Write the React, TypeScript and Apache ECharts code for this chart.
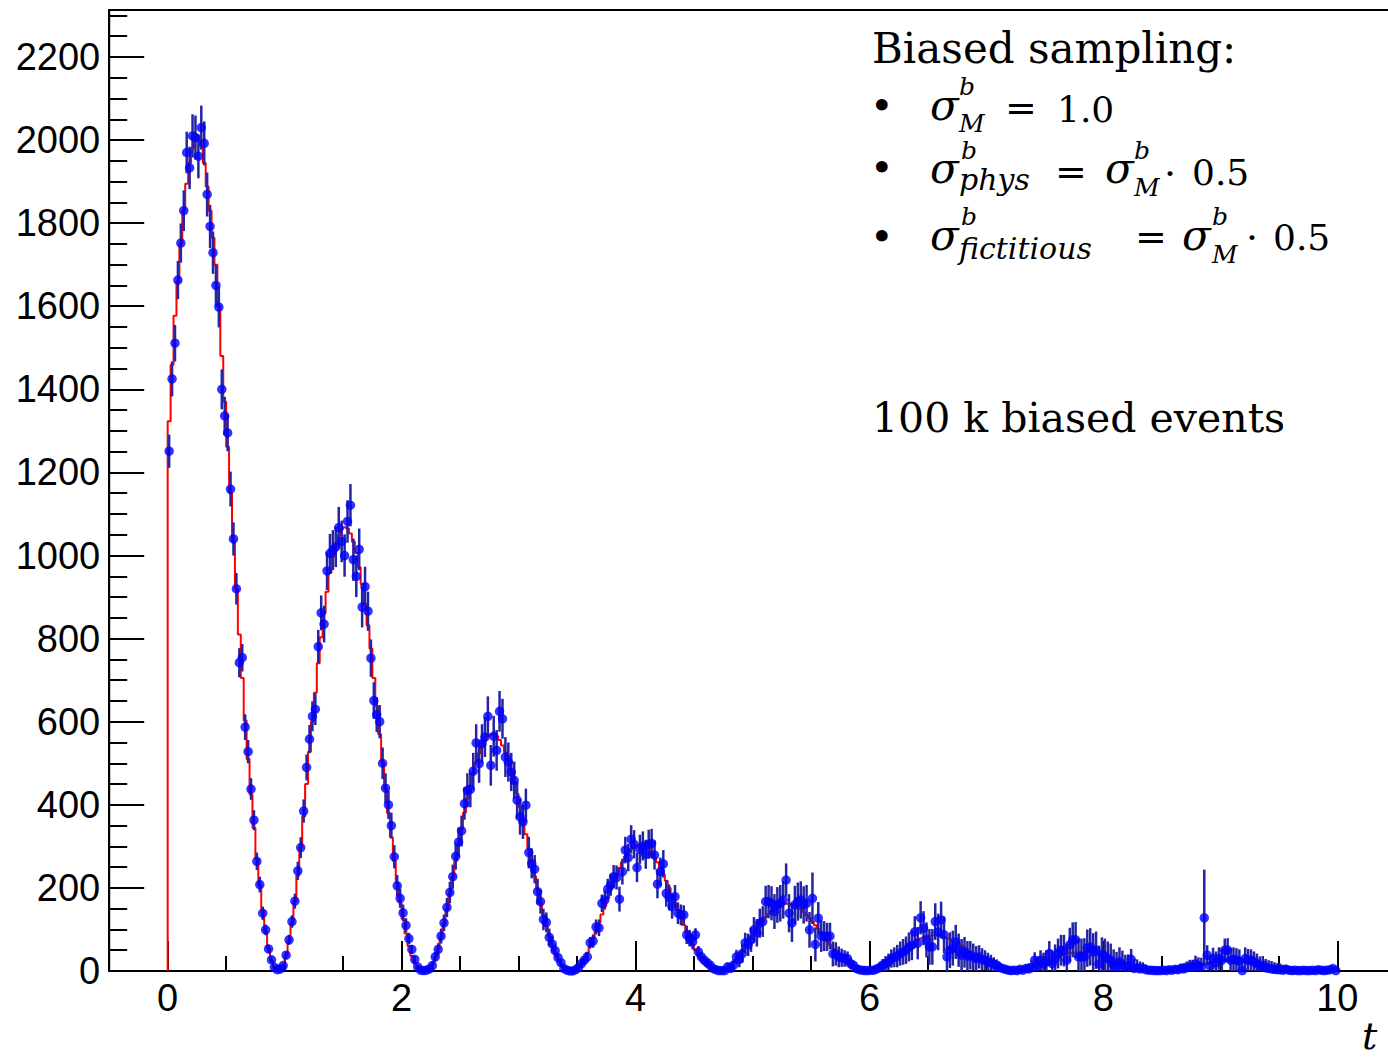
import React, { useEffect, useRef } from "react";
import * as echarts from "echarts";

// 400 bins of width 0.025 on t in [0, 10]
const BIN_WIDTH = 0.025;

// Expected bin contents (red step histogram)
const MODEL: number[] = [
  1323, 1459, 1577, 1660, 1750, 1830, 1895, 1945, 1980, 1999,
  2003, 1985, 1945, 1888, 1830, 1765, 1700, 1600, 1480, 1370,
  1262, 1150, 1035, 920, 810, 705, 603, 510, 425, 345,
  270, 205, 145, 95, 55, 25, 8,
  1, 4, 15, 38, 72, 115, 168, 230, 298, 372,
  450, 528, 600, 670, 741, 803, 861, 913, 958, 997,
  1027, 1049, 1063, 1068, 1065, 1053, 1033, 1006, 972, 931,
  884, 832, 776, 705, 638, 570, 502, 440, 380, 322,
  265, 212, 165, 125, 90, 60, 36, 18, 7, 1,
  0,
  1, 5, 15, 32, 54, 82, 113, 148, 186, 225,
  265, 304, 342, 381, 415, 447, 476, 502, 524, 542,
  555, 565, 569, 569, 565, 556, 543, 526, 506, 482,
  455, 426, 395, 362, 329, 295, 261, 228, 196, 164,
  135, 108, 84, 62, 44, 28, 16, 8, 2, 0,
  1, 4, 10, 19, 31, 44, 60, 78, 96, 116,
  136, 156, 176, 196, 214, 232, 248, 262, 275, 285,
  293, 299, 303, 304, 302, 298, 292, 284, 274, 262,
  248, 233, 217, 200, 183, 165, 147, 129, 111, 94,
  78, 64, 50, 38, 27, 18, 11, 6, 2, 0,
  0, 1, 4, 8, 14, 21, 28, 37, 47, 57,
  68, 79, 90, 100, 110, 120, 129, 137, 144, 150,
  155, 158, 161, 162, 162, 160, 157, 153, 148, 142,
  135, 128, 119, 110, 101, 92, 82, 72, 63, 54,
  45, 37, 29, 23, 17, 11, 7, 4, 2, 0,
  0,
  0, 1, 3, 6, 9, 13, 18, 23, 28, 34,
  40, 45, 51, 56, 62, 67, 71, 75, 78, 81,
  83, 85, 86, 86, 85, 84, 82, 80, 77, 73,
  69, 65, 61, 56, 51, 46, 40, 35, 30, 26,
  21, 17, 13, 10, 7, 5, 3, 1, 0, 0,
  0, 0, 1, 3, 4, 6, 9, 11, 14, 17,
  20, 23, 26, 29, 32, 35, 37, 39, 41, 43,
  44, 45, 46, 46, 46, 45, 44, 43, 42, 40,
  38, 36, 33, 31, 28, 25, 23, 20, 17, 15,
  12, 10, 8, 6, 4, 3, 2, 1, 0, 0,
  0,
  0.1, 0.5, 1.1, 1.9, 2.9, 4.1, 5.4, 6.9, 8.4, 10,
  11.6, 13.3, 14.9, 16.5, 17.9, 19.3, 20.6, 21.7, 22.6, 23.4,
  24, 24.4, 24.6, 24.6, 24.4, 24, 23.4, 22.7, 21.8, 20.8,
  19.6, 18.4, 17, 15.6, 14.2, 12.7, 11.3, 9.8, 8.4, 7.1,
  5.8, 4.7, 3.6, 2.7, 1.9, 1.2, 0.7, 0.3, 0.1, 0,
  0, 0.2, 0.4, 0.8, 1.3, 1.9, 2.6, 3.3, 4.1, 4.9,
];

// Observed bin contents (blue points)
const DATA: number[] = [
  1251, 1425, 1511, 1663, 1752, 1830, 1970, 1933, 2010, 2006,
  1961, 2030, 1992, 1869, 1792, 1729, 1650, 1598, 1400, 1336,
  1295, 1160, 1040, 920, 742, 754, 587, 528, 438, 363,
  264, 208, 139, 99, 53, 27, 9,
  3, 5, 13, 38, 75, 119, 168, 241, 297, 385,
  490, 558, 613, 630, 781, 862, 835, 963, 1005, 1013,
  1021, 1067, 1034, 1000, 1082, 1121, 990, 950, 1015, 876,
  925, 866, 753, 651, 617, 600, 500, 440, 400, 350,
  275, 205, 175, 140, 110, 78, 52, 28, 10, 2,
  1,
  2, 5, 13, 34, 52, 84, 116, 153, 189, 227,
  276, 310, 337, 403, 435, 437, 481, 549, 499, 547,
  563, 613, 495, 565, 531, 625, 607, 515, 503, 479,
  459, 411, 371, 359, 399, 285, 259, 245, 191, 167,
  124, 117, 81, 65, 49, 32, 20, 6, 2, 0,
  0, 3, 8, 18, 26, 34, 68, 72, 106, 104,
  163, 171, 197, 207, 227, 225, 173, 239, 291, 273,
  317, 305, 249, 293, 301, 281, 305, 307, 279, 209,
  239, 258, 187, 177, 155, 179, 139, 135, 135, 87,
  79, 70, 87, 46, 34, 26, 20, 14, 6, 3,
  1, 1, 1, 10, 6, 14, 34, 28, 42, 68,
  63, 75, 99, 92, 115, 119, 167, 167, 163, 143,
  159, 163, 171, 219, 139, 116, 159, 167, 171, 159,
  163, 99, 175, 64, 127, 84, 84, 82, 84, 41,
  41, 34, 32, 30, 30, 18, 14, 6, 3, 2,
  1,
  1, 2, 2, 5, 8, 14, 18, 22, 30, 33,
  36, 42, 46, 50, 58, 62, 94, 67, 128, 103,
  75, 58, 58, 119, 94, 123, 87, 34, 50, 55,
  70, 50, 38, 45, 36, 38, 34, 30, 34, 28,
  26, 22, 20, 16, 14, 9, 6, 4, 2, 1,
  2, 1, 4, 2, 6, 5, 8, 26, 12, 26,
  18, 22, 42, 18, 30, 42, 50, 49, 26, 63,
  75, 75, 34, 34, 34, 55, 58, 46, 50, 17,
  38, 36, 30, 26, 14, 10, 22, 16, 9, 12,
  28, 6, 8, 5, 6, 3, 2, 2, 1, 1,
  1,
  2, 1, 3, 2, 4, 3, 6, 5, 8, 10,
  9, 17, 12, 10, 128, 38, 12, 30, 20, 30,
  26, 50, 50, 26, 28, 26, 24, 1, 30, 26,
  26, 22, 18, 12, 14, 8, 6, 5, 4, 3,
  3, 2, 4, 2, 1, 2, 1, 1, 2, 1,
  1, 2, 1, 3, 2, 1, 2, 3, 6, 1,
];

// Error (half-length) of each observed bin
const ERRORS: number[] = [
  40, 42, 44, 46, 47, 49, 50, 51, 52, 53,
  53, 53, 53, 53, 52, 51, 50, 49, 48, 46,
  44, 42, 40, 38, 35, 33, 31, 28, 26, 24,
  21, 19, 16, 13, 10, 7, 4,
  1, 3, 5, 9, 12, 15, 18, 22, 25, 28,
  31, 34, 36, 38, 40, 42, 44, 46, 47, 48,
  49, 50, 50, 51, 51, 51, 51, 50, 50, 49,
  48, 47, 45, 44, 42, 40, 38, 36, 34, 31,
  28, 26, 23, 20, 17, 14, 11, 8, 5, 2,
  1,
  3, 6, 9, 12, 15, 18, 20, 23, 26, 29,
  32, 35, 37, 39, 41, 43, 44, 45, 46, 47,
  48, 48, 49, 49, 49, 49, 48, 48, 47, 46,
  45, 44, 43, 41, 40, 38, 36, 34, 31, 29,
  26, 24, 21, 18, 15, 12, 9, 7, 3, 1,
  2, 4, 6, 8, 10, 12, 14, 16, 18, 20,
  21, 23, 25, 26, 28, 29, 30, 31, 32, 33,
  34, 34, 35, 35, 35, 35, 35, 35, 35, 34,
  34, 33, 32, 31, 29, 28, 26, 25, 23, 22,
  20, 18, 16, 14, 12, 10, 8, 6, 3, 1,
  1, 3, 6, 9, 12, 14, 17, 19, 22, 24,
  27, 29, 31, 33, 35, 37, 38, 40, 41, 42,
  43, 44, 45, 40, 46, 46, 46, 46, 45, 45,
  44, 43, 62, 41, 39, 38, 36, 34, 32, 30,
  28, 25, 22, 20, 17, 14, 11, 8, 6, 2,
  1,
  2, 4, 7, 10, 13, 15, 18, 20, 22, 24,
  27, 29, 31, 33, 35, 36, 38, 39, 40, 41,
  42, 43, 43, 44, 44, 44, 44, 43, 43, 42,
  41, 40, 39, 37, 36, 34, 32, 30, 28, 27,
  24, 22, 19, 17, 14, 12, 9, 5, 2, 2,
  2, 3, 6, 9, 11, 14, 17, 19, 21, 24,
  26, 28, 30, 32, 34, 36, 37, 38, 40, 41,
  42, 43, 44, 44, 45, 45, 45, 45, 45, 44,
  43, 42, 41, 40, 38, 36, 35, 33, 30, 28,
  25, 23, 20, 18, 15, 13, 10, 7, 3, 2,
  1,
  2, 3, 5, 7, 8, 10, 12, 14, 15, 17,
  18, 20, 21, 22, 116, 24, 25, 26, 27, 27,
  28, 28, 29, 29, 29, 29, 28, 28, 27, 27,
  26, 25, 24, 23, 22, 21, 20, 19, 17, 16,
  15, 13, 11, 10, 8, 6, 5, 3, 2, 1,
  1, 2, 2, 3, 3, 4, 4, 5, 5, 6,
];

const X_MAJOR_TICKS = [0, 2, 4, 6, 8, 10];
const X_MINOR_TICKS = [0, 0.5, 1, 1.5, 2, 2.5, 3, 3.5, 4, 4.5, 5, 5.5, 6, 6.5, 7, 7.5, 8, 8.5, 9, 9.5, 10];
const Y_MAJOR_TICKS = [0, 200, 400, 600, 800, 1000, 1200, 1400, 1600, 1800, 2000, 2200];
const Y_MINOR_TICKS = [
  0, 50, 100, 150, 200, 250, 300, 350, 400, 450, 500, 550, 600, 650, 700, 750, 800, 850, 900, 950,
  1000, 1050, 1100, 1150, 1200, 1250, 1300, 1350, 1400, 1450, 1500, 1550, 1600, 1650, 1700, 1750,
  1800, 1850, 1900, 1950, 2000, 2050, 2100, 2150, 2200, 2250, 2300,
];

const X_MIN = -0.5;
const X_MAX = 10.5;
const Y_MAX = 2313;

const SERIF = '"DejaVu Serif", serif';
const SANS = '"Liberation Sans", Arial, sans-serif';

function txt(text: string, x: number, baseline: number, size: number, italic = false) {
  return {
    type: "text",
    x,
    y: baseline - 0.346 * size,
    silent: true,
    style: {
      text,
      fill: "#000",
      fontSize: size,
      fontFamily: SERIF,
      fontStyle: italic ? "italic" : "normal",
      align: "left",
      verticalAlign: "middle",
    },
  };
}

function centered(text: string, x: number, centerY: number, size: number) {
  return {
    type: "text",
    x,
    y: centerY,
    silent: true,
    style: {
      text,
      fill: "#000",
      fontSize: size,
      fontFamily: SERIF,
      align: "left",
      verticalAlign: "middle",
    },
  };
}

export default function App() {
  const ref = useRef<HTMLDivElement>(null);

  useEffect(() => {
    if (!ref.current) return;
    const chart = echarts.init(ref.current, undefined, { renderer: "svg", width: 1388, height: 1060 });

    const stepData: number[][] = [[0, 0]];
    MODEL.forEach((v, i) => stepData.push([i * BIN_WIDTH, v]));
    stepData.push([MODEL.length * BIN_WIDTH, MODEL[MODEL.length - 1]]);

    const points = DATA.map((v, i) => [(i + 0.5) * BIN_WIDTH, v]);
    const bars = DATA.map((v, i) => [(i + 0.5) * BIN_WIDTH, Math.max(0, v - ERRORS[i]), v + ERRORS[i]]);

    const tickLine = { color: "#000", width: 2 };

    const graphics: any[] = [
      txt("Biased sampling:", 872, 63, 42),
      // bullet 1
      centered("\u2022", 870, 105, 40),
      txt("\u03c3", 930, 120, 42, true),
      txt("b", 959, 95, 25, true),
      txt("M", 959, 132, 25, true),
      centered("=", 1005, 108, 38),
      txt("1.0", 1057, 122, 36),
      // bullet 2
      centered("\u2022", 870, 167, 40),
      txt("\u03c3", 930, 183, 42, true),
      txt("b", 961, 159, 25, true),
      txt("phys", 959, 190, 30, true),
      centered("=", 1055, 172, 38),
      txt("\u03c3", 1105, 183, 42, true),
      txt("b", 1134, 159, 25, true),
      txt("M", 1134, 196, 25, true),
      centered("\u00b7", 1164, 174, 38),
      txt("0.5", 1192, 185, 36),
      // bullet 3
      centered("\u2022", 870, 236, 40),
      txt("\u03c3", 930, 250, 42, true),
      txt("b", 961, 225, 25, true),
      txt("fictitious", 959, 259, 30, true),
      centered("=", 1135, 237, 38),
      txt("\u03c3", 1182, 250, 42, true),
      txt("b", 1212, 225, 25, true),
      txt("M", 1212, 263, 25, true),
      centered("\u00b7", 1246, 238, 38),
      txt("0.5", 1273, 250, 36),
      // event count
      txt("100 k biased events", 872, 432, 41),
      // axis title
      txt("t", 1362, 1049, 38, true),
    ];

    const option: any = {
      animation: false,
      backgroundColor: "#fff",
      grid: {
        left: 109.2,
        top: 10,
        width: 1286.6,
        height: 961,
        show: true,
        borderColor: "#000",
        borderWidth: 2,
        backgroundColor: "transparent",
        containLabel: false,
        outerBoundsMode: "none",
      },
      xAxis: [
        {
          type: "value",
          min: X_MIN,
          max: X_MAX,
          position: "bottom",
          axisLine: { show: true, onZero: false, lineStyle: tickLine },
          axisTick: { show: true, inside: true, length: 30, customValues: X_MAJOR_TICKS, lineStyle: tickLine },
          axisLabel: {
            show: true,
            customValues: X_MAJOR_TICKS,
            margin: 8,
            fontSize: 38,
            fontFamily: SANS,
            color: "#000",
            formatter: (v: number) => String(v),
          },
          splitLine: { show: false },
        },
        {
          type: "value",
          min: X_MIN,
          max: X_MAX,
          position: "bottom",
          axisLine: { show: false, onZero: false },
          axisTick: { show: true, inside: true, length: 15, customValues: X_MINOR_TICKS, lineStyle: tickLine },
          axisLabel: { show: false },
          splitLine: { show: false },
        },
      ],
      yAxis: [
        {
          type: "value",
          min: 0,
          max: Y_MAX,
          position: "left",
          axisLine: { show: true, onZero: false, lineStyle: tickLine },
          axisTick: { show: true, inside: true, length: 35, customValues: Y_MAJOR_TICKS, lineStyle: tickLine },
          axisLabel: {
            show: true,
            customValues: Y_MAJOR_TICKS,
            margin: 9,
            fontSize: 38,
            fontFamily: SANS,
            color: "#000",
            formatter: (v: number) => String(v),
          },
          splitLine: { show: false },
        },
        {
          type: "value",
          min: 0,
          max: Y_MAX,
          position: "left",
          axisLine: { show: false, onZero: false },
          axisTick: { show: true, inside: true, length: 18, customValues: Y_MINOR_TICKS, lineStyle: tickLine },
          axisLabel: { show: false },
          splitLine: { show: false },
        },
      ],
      series: [
        {
          type: "line",
          xAxisIndex: 0,
          yAxisIndex: 0,
          data: stepData,
          step: "end",
          symbol: "none",
          silent: true,
          lineStyle: { color: "#ff0000", width: 2 },
          z: 2,
        },
        {
          type: "custom",
          xAxisIndex: 0,
          yAxisIndex: 0,
          data: bars,
          silent: true,
          encode: { x: 0, y: [1, 2] },
          renderItem: (params: any, api: any) => {
            const x = api.value(0);
            const p1 = api.coord([x, api.value(1)]);
            const p2 = api.coord([x, api.value(2)]);
            return {
              type: "line",
              shape: { x1: p1[0], y1: p1[1], x2: p2[0], y2: p2[1] },
              style: { stroke: "#2424a6", lineWidth: 2.5 },
            };
          },
          z: 3,
        },
        {
          type: "scatter",
          xAxisIndex: 0,
          yAxisIndex: 0,
          data: points,
          symbol: "circle",
          symbolSize: 9.5,
          silent: true,
          itemStyle: { color: "#0000ff" },
          z: 4,
        },
      ],
      graphic: graphics,
    };

    chart.setOption(option);
    return () => chart.dispose();
  }, []);

  return (
    <div
      ref={ref}
      style={{ position: "absolute", left: 0, top: 0, width: 1388, height: 1060, background: "#fff" }}
    />
  );
}
